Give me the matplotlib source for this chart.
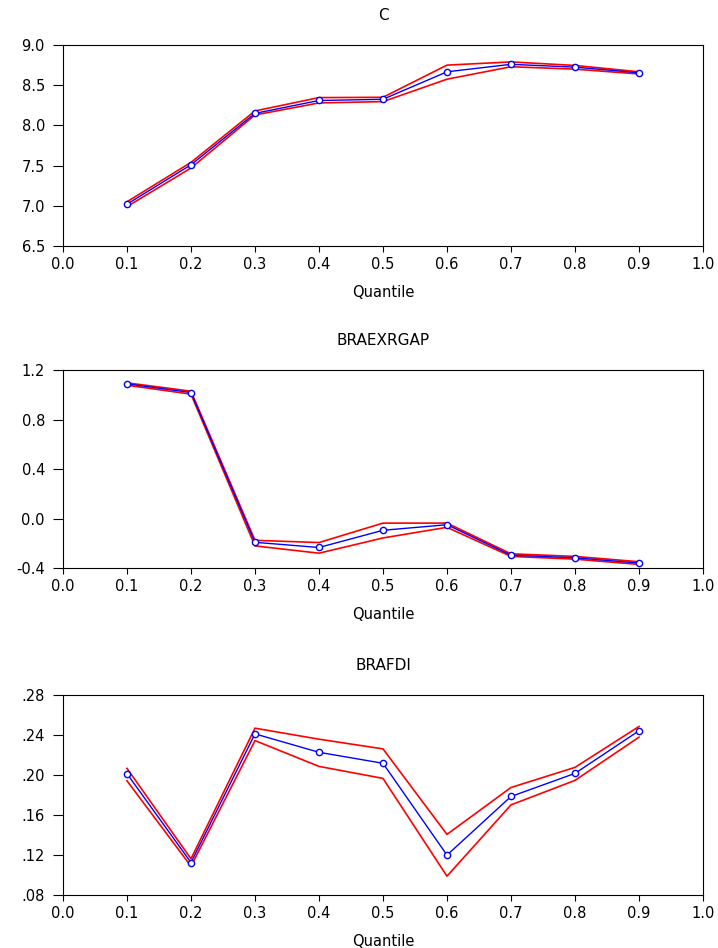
import matplotlib.pyplot as plt
import numpy as np
from matplotlib.ticker import FuncFormatter

quantiles = [0.1, 0.2, 0.3, 0.4, 0.5, 0.6, 0.7, 0.8, 0.9]

c_est = [7.02, 7.51, 8.15, 8.31, 8.325, 8.667, 8.76, 8.725, 8.654]
c_hi = [7.05, 7.54, 8.18, 8.346, 8.35, 8.75, 8.79, 8.746, 8.667]
c_lo = [6.99, 7.47, 8.13, 8.28, 8.296, 8.575, 8.73, 8.70, 8.64]

gap_est = [1.088, 1.018, -0.192, -0.234, -0.095, -0.05, -0.296, -0.317, -0.36]
gap_hi = [1.096, 1.029, -0.176, -0.194, -0.037, -0.037, -0.285, -0.306, -0.349]
gap_lo = [1.077, 1.005, -0.221, -0.28, -0.157, -0.071, -0.306, -0.328, -0.371]

fdi_est = [0.2013, 0.1125, 0.2411, 0.2227, 0.2117, 0.1199, 0.1785, 0.2016, 0.2442]
fdi_hi = [0.2066, 0.1162, 0.2468, 0.2358, 0.2261, 0.1406, 0.1875, 0.2076, 0.2485]
fdi_lo = [0.1942, 0.1088, 0.2344, 0.2086, 0.1966, 0.0988, 0.1701, 0.1946, 0.2378]

plt.rcParams['font.family'] = ['DejaVu Sans']

def nolead(v, pos):
    s = '%.2f' % v
    return s.replace('0.', '.', 1) if abs(v) < 1 else s

panels = [
    ('C', c_est, c_hi, c_lo, (6.5, 9.0), np.arange(6.5, 9.01, 0.5), '%.1f', 0.7405, 0.212),
    ('BRAEXRGAP', gap_est, gap_hi, gap_lo, (-0.4, 1.2), np.arange(-0.4, 1.21, 0.4), '%.1f', 0.4008, 0.2089),
    ('BRAFDI', fdi_est, fdi_hi, fdi_lo, (0.08, 0.28), np.arange(0.08, 0.281, 0.04), None, 0.0559, 0.211),
]

fig = plt.figure(figsize=(7.18, 9.48), dpi=100)
for title, est, hi, lo, ylim, yticks, fmt, bottom, height in panels:
    ax = fig.add_axes([0.0877, bottom, 0.8914, height])
    ax.plot(quantiles, hi, color='red', lw=1.2)
    ax.plot(quantiles, lo, color='red', lw=1.2)
    ax.plot(quantiles, est, color='blue', lw=1.0, marker='o', ms=4.5,
            mfc='white', mec='blue', mew=1.0)
    ax.set_xlim(0, 1)
    ax.set_ylim(*ylim)
    ax.set_xticks(np.arange(0, 1.01, 0.1))
    ax.xaxis.set_major_formatter(FuncFormatter(lambda v, p: '%.1f' % v))
    ax.set_yticks(yticks)
    if fmt:
        ax.yaxis.set_major_formatter(FuncFormatter(lambda v, p, f=fmt: f % v))
    else:
        ax.yaxis.set_major_formatter(FuncFormatter(nolead))
    ax.tick_params(axis='x', direction='out', length=4, pad=4, labelsize=10.5)
    ax.tick_params(axis='y', direction='out', length=7, pad=6, labelsize=10.5)
    ax.set_title(title, fontsize=11, pad=18)
    ax.set_xlabel('Quantile', fontsize=10.5, labelpad=9)

fig.savefig('out.png', dpi=100)
